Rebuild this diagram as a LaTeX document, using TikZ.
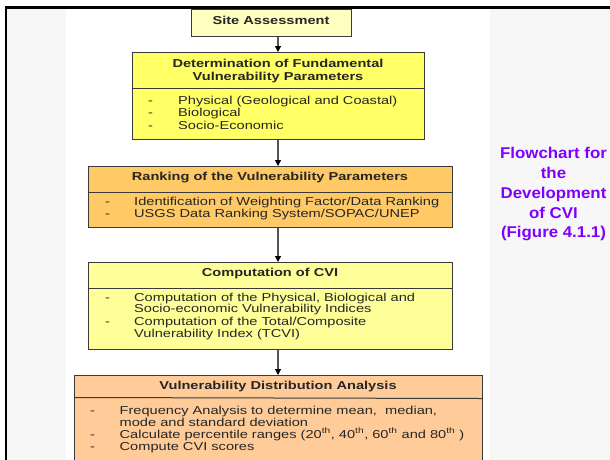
\documentclass[tikz,border=0pt]{standalone}
\usepackage{fontspec}
\setmainfont{Liberation Sans}[FakeStretch=1.27]
\newfontfamily\sidefont{Liberation Sans}[FakeStretch=1.08]
\usetikzlibrary{arrows.meta}
\definecolor{frame}{HTML}{000000}
\definecolor{pagegray}{HTML}{F7F7F7}
\definecolor{boxline}{HTML}{3A3A3A}
\definecolor{fillA}{HTML}{FFFFC0}
\definecolor{fillB}{HTML}{FFFF66}
\definecolor{fillC}{HTML}{FFC966}
\definecolor{fillD}{HTML}{FFFF99}
\definecolor{fillE}{HTML}{FFCC99}
\definecolor{violet}{HTML}{7F00FF}
\definecolor{arrowgray}{HTML}{555555}
\tikzset{
  box/.style={draw=boxline, line width=1pt, rectangle, inner sep=0pt, anchor=north west},
  head/.style={font=\fontsize{11.5}{13}\selectfont\bfseries, text=black!85, inner sep=0pt, anchor=base},
  body/.style={font=\fontsize{11.5}{12}\selectfont, text=black!85, inner sep=0pt, anchor=base west},
  divider/.style={draw=boxline, line width=1pt},
  flow/.style={draw=arrowgray, line width=1.2pt, -{Triangle[width=6pt,length=6pt,color=black]}},
}
\begin{document}
\begin{tikzpicture}[x=1pt,y=-1pt]
\useasboundingbox (0,0) rectangle (610,459);
\clip (0,0) rectangle (610,459);
\fill[white] (0,0) rectangle (610,459);
\fill[pagegray] (6,7) rectangle (610,470);
\fill[white] (66,9) rectangle (490,470);
\draw[frame, line width=2.6pt] (6,470) -- (6,7.3) -- (615,7.3);

% boxes
\node[box, fill=fillA, minimum width=160pt, minimum height=27pt] (b1) at (191,9) {};
\node[box, fill=fillB, minimum width=292pt, minimum height=87pt] (b2) at (132,52) {};
\node[box, fill=fillC, minimum width=364pt, minimum height=61pt] (b3) at (88,166) {};
\node[box, fill=fillD, minimum width=364pt, minimum height=87pt] (b4) at (88,262) {};
\node[box, fill=fillE, minimum width=408pt, minimum height=100pt] (b5) at (74,375) {};

% dividers
\draw[divider] (132,88) -- (424,88);
\draw[divider] (88,192) -- (452,192);
\draw[divider] (88,288) -- (452,288);
\draw[divider] (74,397.5) -- (482,398.5);

% arrows (all on the vertical axis x = 278)
\coordinate (axis) at (278,0);
\draw[flow] (b1.south -| axis) -- (b2.north -| axis);
\draw[flow] (b2.south -| axis) -- (b3.north -| axis);
\draw[flow] (b3.south -| axis) -- (b4.north -| axis);
\draw[flow] (b4.south -| axis) -- (b5.north -| axis);

% box 1
\node[head] (t1) at (271,24.5) {Site Assessment};

% box 2
\node[head] (t2a) at (278,67) {Determination of Fundamental};
\node[head] (t2b) at (278,80) {Vulnerability Parameters};
\node[body] (d2a) at (148,104) {-};
\node[body] (l2a) at (178,104) {Physical (Geological and Coastal)};
\node[body] (d2b) at (148,116) {-};
\node[body] (l2b) at (178,116) {Biological};
\node[body] (d2c) at (148,129) {-};
\node[body] (l2c) at (178,129) {Socio-Economic};

% box 3
\node[head] (t3) at (270,180) {Ranking of the Vulnerability Parameters};
\node[body] (d3a) at (105,205) {-};
\node[body] (l3a) at (134,205) {Identification of Weighting Factor/Data Ranking};
\node[body] (d3b) at (105,217) {-};
\node[body] (l3b) at (134,217) {USGS Data Ranking System/SOPAC/UNEP};

% box 4
\node[head] (t4) at (270,276) {Computation of CVI};
\node[body] (d4a) at (105,301) {-};
\node[body] (l4a) at (134,301) {Computation of the Physical, Biological and};
\node[body] (l4b) at (134,312.5) {Socio-economic Vulnerability Indices};
\node[body] (d4c) at (105,325) {-};
\node[body] (l4c) at (134,325) {Computation of the Total/Composite};
\node[body] (l4d) at (134,337) {Vulnerability Index (TCVI)};

% box 5
\node[head] (t5) at (278,389) {Vulnerability Distribution Analysis};
\node[body] (d5a) at (90,414) {-};
\node[body] (l5a) at (119.5,414) {Frequency Analysis to determine mean,\ \ median,};
\node[body] (l5b) at (119.5,426) {mode and standard deviation};
\node[body] (d5c) at (90,438) {-};
\node[body] (l5c) at (119.5,438) {Calculate percentile ranges (20\textsuperscript{th}, 40\textsuperscript{th}, 60\textsuperscript{th} and 80\textsuperscript{th} )};
\node[body] (d5d) at (90,450) {-};
\node[body] (l5d) at (119.5,450) {Compute CVI scores};

% side caption
\node[font=\sidefont\fontsize{15.6}{19.8}\selectfont\bfseries, text=violet, align=center, inner sep=0pt] (cap) at (553.5,194.3)
  {Flowchart for\\the\\Development\\of CVI\\(Figure 4.1.1)};
\end{tikzpicture}
\end{document}
